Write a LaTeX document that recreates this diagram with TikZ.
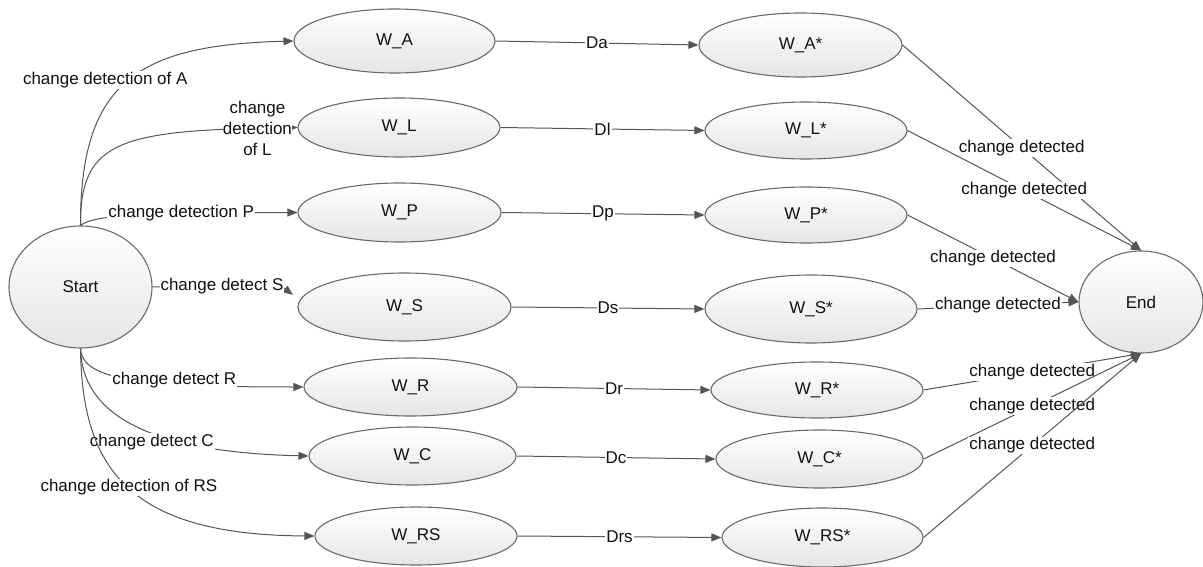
\documentclass[tikz,border=0pt]{standalone}
\usepackage{fontspec}
\setmainfont{Liberation Sans}
\usetikzlibrary{shapes.geometric,arrows.meta}
\definecolor{linec}{HTML}{555555}
\definecolor{edgec}{HTML}{6A6A6A}
\definecolor{textc}{HTML}{111111}
\begin{document}
\begin{tikzpicture}[x=1pt,y=-1pt, font=\fontsize{17}{21}\selectfont, text=textc,
  st/.style={ellipse, draw=edgec, line width=1.1pt, top color=white, bottom color=gray!20, inner sep=0pt},
  conn/.style={draw=linec, line width=1pt, -{Triangle[length=10pt,width=8pt]}},
  lab/.style={fill=white, inner sep=1pt}]
\useasboundingbox (0,0) rectangle (1203,567);
% nodes
\node[st, minimum width=143pt, minimum height=122pt] (start) at (80.5,287) {Start};
\node[st, minimum width=124pt, minimum height=102pt] (end) at (1141,302) {End};
\node[st, minimum width=201pt, minimum height=64pt] (a1) at (394.5,41) {W\_A};
\node[st, minimum width=202pt, minimum height=59pt] (l1) at (399,127.5) {W\_L};
\node[st, minimum width=203pt, minimum height=59pt] (p1) at (399.5,212.5) {W\_P};
\node[st, minimum width=213pt, minimum height=68pt] (s1) at (404.5,307) {W\_S};
\node[st, minimum width=213pt, minimum height=58pt] (r1) at (410.5,387) {W\_R};
\node[st, minimum width=207pt, minimum height=58pt] (c1) at (412.5,456) {W\_C};
\node[st, minimum width=202pt, minimum height=58pt] (rs1) at (416,536) {W\_RS};
\node[st, minimum width=203pt, minimum height=64pt] (a2) at (800.5,45) {W\_A*};
\node[st, minimum width=202pt, minimum height=57pt] (l2) at (806,130.5) {W\_L*};
\node[st, minimum width=202pt, minimum height=56pt] (p2) at (806,215) {W\_P*};
\node[st, minimum width=212pt, minimum height=68pt] (s2) at (811,309) {W\_S*};
\node[st, minimum width=212pt, minimum height=56pt] (r2) at (817,390) {W\_R*};
\node[st, minimum width=207pt, minimum height=58pt] (c2) at (819.5,459) {W\_C*};
\node[st, minimum width=201pt, minimum height=59pt] (rs2) at (822.5,537.5) {W\_RS*};
\coordinate (sx) at (293,295);
% start connectors
\draw[conn] (start.north) .. controls (80,80) and (140,45) .. (a1.west)
  node[lab, pos=0.5, xshift=-24pt] {change detection of A};
\draw[conn] (start.north) .. controls (80,140) and (120,130) .. (l1.west)
  node[lab, pos=0.92, align=center, inner sep=0pt] {change\\detection\\of L};
\draw[conn] (start.north) .. controls (95,214) and (150,213) .. (p1.west)
  node[lab, pos=0.675] {change detection P};
\draw[conn] (start.east) .. controls (280,285) .. (sx)
  node[lab, pos=0.23] {change detect S};
\draw[conn] (start.south) .. controls (82,380) and (140,387) .. (r1.west)
  node[lab, pos=0.67, yshift=4pt] {change detect R};
\draw[conn] (start.south) .. controls (82,410) and (140,452) .. (c1.west)
  node[lab, pos=0.5, xshift=20pt, yshift=-18pt] {change detect C};
\draw[conn] (start.south) .. controls (82,470) and (130,535) .. (rs1.west)
  node[lab, pos=0.5] {change detection of RS};
% middle connectors
\draw[conn] (a1.east) -- node[lab] {Da} (a2.west);
\draw[conn] (l1.east) -- node[lab] {Dl} (l2.west);
\draw[conn] (p1.east) -- node[lab] {Dp} (p2.west);
\draw[conn] (s1.east) -- node[lab] {Ds} (s2.west);
\draw[conn] (r1.east) -- node[lab] {Dr} (r2.west);
\draw[conn] (c1.east) -- node[lab] {Dc} (c2.west);
\draw[conn] (rs1.east) -- node[lab] {Drs} (rs2.west);
% end connectors
\draw[conn] (a2.east) -- node[lab] {change detected} (end.north);
\draw[conn] (l2.east) -- node[lab] {change detected} (end.north);
\draw[conn] (p2.east) -- node[lab] {change detected} (end.west);
\draw[conn] (s2.east) -- node[lab] {change detected} (end.west);
\draw[conn] (r2.east) -- node[lab] {change detected} (end.south);
\draw[conn] (c2.east) -- node[lab] {change detected} (end.south);
\draw[conn] (rs2.east) -- node[lab] {change detected} (end.south);
\end{tikzpicture}
\end{document}
